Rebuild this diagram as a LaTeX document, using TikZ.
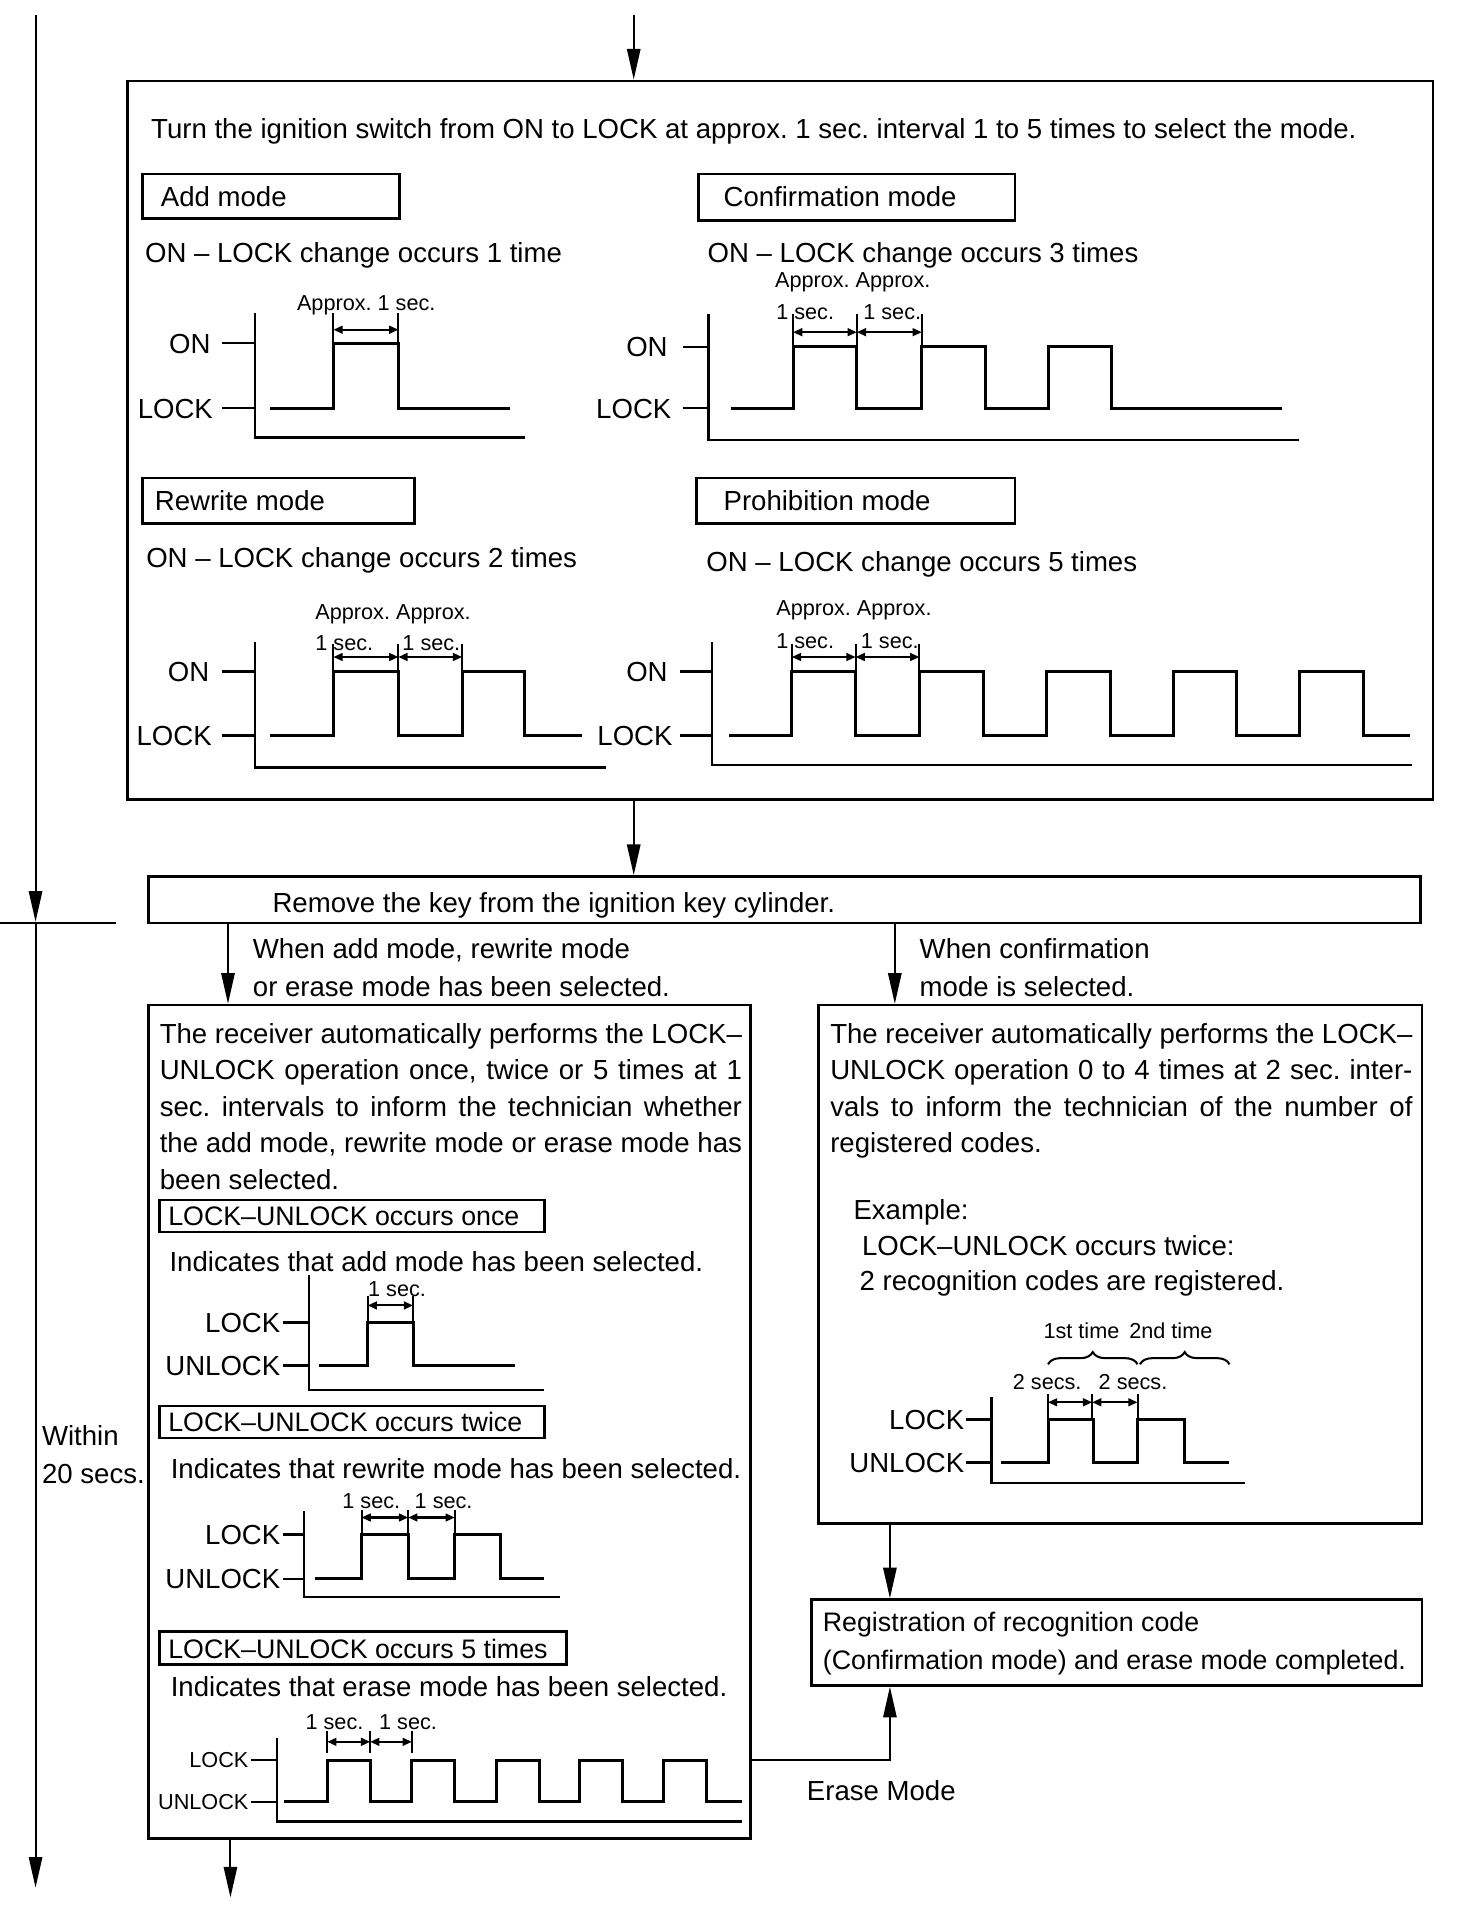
\documentclass[tikz,border=0pt]{standalone}
\usepackage{fontspec}
\setmainfont{Liberation Sans}
\usetikzlibrary{positioning,arrows.meta,fit,decorations.pathreplacing}
\newcommand{\mainfs}{\fontsize{13.5}{17.85}\selectfont}
\newcommand{\boxfs}{\fontsize{13.1}{16}\selectfont}
\newcommand{\smallfs}{\fontsize{10.6}{12}\selectfont}

\begin{document}
\frenchspacing
\begin{tikzpicture}[x=0.6pt,y=-0.6pt,
  box/.style={draw,line width=1.3pt,inner sep=0pt},
  txt/.style={font=\mainfs,inner sep=0pt,anchor=west,text height=9.7pt,text depth=0pt},
  btxt/.style={txt,font=\boxfs,text height=9.4pt},
  sm/.style={font=\smallfs,inner sep=0pt,anchor=west,text height=7.6pt,text depth=0pt},
  lbl/.style={txt,anchor=east},
  arr/.style={-{Triangle[length=15pt,width=6.5pt]},line width=1pt},
  dimarr/.style={<->,>={Triangle[length=4.5pt,width=3.8pt]},line width=1pt},
  sig/.style={line width=1.5pt},
  axisln/.style={line width=1.2pt},
  extln/.style={line width=1pt}
]
\useasboundingbox (0,0) rectangle (1201,1568);

% time line on the left
\coordinate (t0) at (29,12);
\coordinate (tm) at (29,752);
\coordinate (t1) at (29,1540);
\draw[arr] (t0) -- (tm);
\draw[arr] (tm) -- (t1);
\draw[line width=1pt] (0,753) -- (95,753);
\node[txt] (within) at (34,1171) {Within};
\node[txt] (secs) at (34,1202) {20 secs.};

% mode selection
\coordinate (in) at (517,12);
\node[box,fit={(104,66) (1169,652)}] (sel) {};
\draw[arr] (in) -- (in |- sel.north);
\node[txt] (turn) at (123,105) {Turn the ignition switch from ON to LOCK at approx. 1 sec. interval 1 to 5 times to select the mode.};

% add mode
\node[box,fit={(116,142) (326,178)}] (addbox) {};
\node[txt] (addlbl) at (131,160) {Add mode};
\node[txt] (addcnt) at (118,206) {ON – LOCK change occurs 1 time};
\node[sm] (addappr) at (242,247) {Approx. 1 sec.};
\draw[axisln] (208,255) |- (428,357);
\node[lbl] (addon) at (172,280) {ON};
\node[lbl] (addlk) at (174,333) {LOCK};
\draw[axisln] (181,280) -- (208,280) (181,333) -- (208,333);
\draw[sig] (220,333) -| (272,280) -| (325,333) -- (416,333);
\draw[extln] (272,280) -- (272,255) (325,280) -- (325,255);
\draw[dimarr] (272,269) -- (325,269);

% confirmation mode
\node[box,fit={(570,142) (828,180)}] (confbox) {};
\node[txt] (conflbl) at (590,160) {Confirmation mode};
\node[txt] (confcnt) at (577,206) {ON – LOCK change occurs 3 times};
\node[sm] (confappr) at (632,228) {Approx. Approx.};
\node[sm] (confs1) at (633,254) {1 sec.};
\node[sm] (confs2) at (704,254) {1 sec.};
\draw[axisln] (578,256) |- (1060,359);
\node[lbl] (confon) at (545,283) {ON};
\node[lbl] (conflk) at (548,333) {LOCK};
\draw[axisln] (557,283) -- (578,283) (557,333) -- (578,333);
\draw[sig] (596,333) \foreach \r in {647,752,855} {-| (\r,283) -| ({\r+52},333)} -- (1046,333);
\draw[extln] (647,283) -- (647,256) (699,283) -- (699,256) (752,283) -- (752,256);
\draw[dimarr] (647,271) -- (699,271);
\draw[dimarr] (699,271) -- (752,271);

% rewrite mode
\node[box,fit={(116,390) (338,427)}] (rwbox) {};
\node[txt] (rwlbl) at (126,408) {Rewrite mode};
\node[txt] (rwcnt) at (119,455) {ON – LOCK change occurs 2 times};
\node[sm] (rwappr) at (257,499) {Approx. Approx.};
\node[sm] (rws1) at (257,524) {1 sec.};
\node[sm] (rws2) at (328,524) {1 sec.};
\draw[axisln] (208,524) |- (494,626);
\node[lbl] (rwon) at (171,548) {ON};
\node[lbl] (rwlk) at (173,600) {LOCK};
\draw[axisln] (181,548) -- (208,548) (181,600) -- (208,600);
\draw[sig] (220,600) -| (272,548) -| (325,600) -| (377,548) -| (428,600) -- (475,600);
\draw[extln] (272,548) -- (272,525) (325,548) -- (325,525) (377,548) -- (377,525);
\draw[dimarr] (272,536) -- (325,536);
\draw[dimarr] (325,536) -- (377,536);

% prohibition mode
\node[box,fit={(568,390) (828,427)}] (prbox) {};
\node[txt] (prlbl) at (590,408) {Prohibition mode};
\node[txt] (prcnt) at (576,458) {ON – LOCK change occurs 5 times};
\node[sm] (prappr) at (633,496) {Approx. Approx.};
\node[sm] (prs1) at (633,523) {1 sec.};
\node[sm] (prs2) at (702,523) {1 sec.};
\draw[axisln] (581,524) |- (1152,624);
\node[lbl] (pron) at (545,548) {ON};
\node[lbl] (prlk) at (549,600) {LOCK};
\draw[axisln] (555,548) -- (581,548) (555,600) -- (581,600);
\draw[sig] (595,600) \foreach \r in {646,750,854,957,1060} {-| (\r,548) -| ({\r+52},600)} -- (1150,600);
\draw[extln] (646,548) -- (646,525) (698,548) -- (698,525) (750,548) -- (750,525);
\draw[dimarr] (646,536) -- (698,536);
\draw[dimarr] (698,536) -- (750,536);

% key removed
\node[box,fit={(121,715) (1159,753)}] (rm) {};
\node[txt] (rmlbl) at (222,736) {Remove the key from the ignition key cylinder.};
\draw[arr] (in |- sel.south) -- (in |- rm.north);

\coordinate (lx) at (186,0);
\coordinate (rx) at (730,0);
\node[box,fit={(121,820) (612,1500)}] (recv) {};
\node[box,fit={(668,820) (1160,1243)}] (conf) {};
\draw[arr] (lx |- rm.south) -- (lx |- recv.north);
\draw[arr] (rx |- rm.south) -- (rx |- conf.north);
\node[txt] (whenl1) at (206,774) {When add mode, rewrite mode};
\node[txt] (whenl2) at (206,805) {or erase mode has been selected.};
\node[txt] (whenr1) at (750,774) {When confirmation};
\node[txt] (whenr2) at (750,805) {mode is selected.};

% receiver answer, add / rewrite / erase
\foreach \t [count=\i from 0] in {{The receiver automatically performs the LOCK–},{UNLOCK operation once, twice or 5 times at 1},{sec. intervals to inform the technician whether},{the add mode, rewrite mode or erase mode has}}
  \node[txt] (lp\i) at (130,{843+29.8*\i}) {\makebox[285pt][s]{\t}};
\node[txt] (lp4) at (130,962) {been selected.};

\node[box,fit={(130,979) (444,1005)}] (oncebox) {};
\node[btxt] (oncelbl) at (137,992) {LOCK–UNLOCK occurs once};
\node[txt] (oncetxt) at (138,1029) {Indicates that add mode has been selected.};
\node[sm] (oncesec) at (300,1051) {1 sec.};
\draw[axisln] (252,1040) |- (444,1134);
\node[lbl] (oncelk) at (229,1079) {LOCK};
\node[lbl] (onceun) at (229,1114) {UNLOCK};
\draw[axisln] (231,1079) -- (252,1079) (231,1114) -- (252,1114);
\draw[sig] (260,1114) -| (300,1079) -| (337,1114) -- (420,1114);
\draw[extln] (300,1079) -- (300,1057) (337,1079) -- (337,1057);
\draw[dimarr] (300,1065) -- (337,1065);

\node[box,fit={(130,1147) (444,1173)}] (twicebox) {};
\node[btxt] (twicelbl) at (137,1160) {LOCK–UNLOCK occurs twice};
\node[txt] (twicetxt) at (139,1198) {Indicates that rewrite mode has been selected.};
\node[sm] (tws1) at (279,1224) {1 sec.};
\node[sm] (tws2) at (338,1224) {1 sec.};
\draw[axisln] (248,1233) |- (457,1303);
\node[lbl] (twlk) at (229,1252) {LOCK};
\node[lbl] (twun) at (229,1288) {UNLOCK};
\draw[axisln] (231,1252) -- (248,1252) (231,1288) -- (248,1288);
\draw[sig] (257,1288) -| (295,1252) -| (333,1288) -| (371,1252) -| (408,1288) -- (444,1288);
\draw[extln] (295,1252) -- (295,1232) (333,1252) -- (333,1232) (371,1252) -- (371,1232);
\draw[dimarr] (295,1238) -- (333,1238);
\draw[dimarr] (333,1238) -- (371,1238);

\node[box,fit={(130,1331) (462,1358)}] (fivebox) {};
\node[btxt] (fivelbl) at (137,1345) {LOCK–UNLOCK occurs 5 times};
\node[txt] (fivetxt) at (139,1376) {Indicates that erase mode has been selected.};
\node[sm] (fvs1) at (249,1405) {1 sec.};
\node[sm] (fvs2) at (309,1405) {1 sec.};
\draw[axisln] (226,1418) |- (605,1486);
\node[sm,anchor=east] (fvlk) at (203,1436) {LOCK};
\node[sm,anchor=east] (fvun) at (203,1470) {UNLOCK};
\draw[axisln] (205,1436) -- (226,1436) (205,1470) -- (226,1470);
\draw[sig] (232,1470) \foreach \r in {267,336,405,473,541} {-| (\r,1436) -| ({\r+35},1470)} -- (605,1470);
\draw[extln] (267,1412) -- (267,1430) (302,1412) -- (302,1430) (336,1412) -- (336,1430);
\draw[dimarr] (267,1421) -- (302,1421);
\draw[dimarr] (302,1421) -- (336,1421);

% receiver answer, confirmation
\foreach \t [count=\i from 0] in {{The receiver automatically performs the LOCK–},{UNLOCK operation 0 to 4 times at 2 sec. inter-},{vals to inform the technician of the number of}}
  \node[txt] (rp\i) at (677,{843+29.8*\i}) {\makebox[285pt][s]{\t}};
\node[txt] (rp3) at (677,932) {registered codes.};
\node[txt] (expl) at (696,987) {Example:};
\node[txt] (expl1) at (703,1016) {LOCK–UNLOCK occurs twice:};
\node[txt] (expl2) at (701,1045) {2 recognition codes are registered.};

\node[sm] (first) at (851,1086) {1st time};
\node[sm] (second) at (921,1086) {2nd time};
\draw[extln,decorate,decoration={brace,amplitude=6pt}] (855,1113) -- (928,1113);
\draw[extln,decorate,decoration={brace,amplitude=6pt}] (930,1113) -- (1003,1113);
\node[sm] (twos1) at (826,1127) {2 secs.};
\node[sm] (twos2) at (896,1127) {2 secs.};
\draw[axisln] (809,1140) |- (1016,1210);
\node[lbl] (cklk) at (787,1158) {LOCK};
\node[lbl] (ckun) at (787,1193) {UNLOCK};
\draw[axisln] (788,1158) -- (809,1158) (788,1193) -- (809,1193);
\draw[sig] (817,1193) -| (855,1158) -| (892,1193) -| (928,1158) -| (966,1193) -- (1003,1193);
\draw[extln] (855,1158) -- (855,1137) (891,1158) -- (891,1137) (928,1158) -- (928,1137);
\draw[dimarr] (855,1144) -- (891,1144);
\draw[dimarr] (891,1144) -- (928,1144);

% registration
\node[box,fit={(662,1305) (1160,1375)}] (reg) {};
\node[btxt] (reg1) at (671,1323) {Registration of recognition code};
\node[btxt] (reg2) at (671,1354) {(Confirmation mode) and erase mode completed.};

\coordinate (ex) at (726,0);
\coordinate (ey) at (0,1436);
\draw[arr] (ex |- conf.south) -- (ex |- reg.north);
\draw[arr] (recv.east |- ey) -| (ex |- reg.south);
\node[txt] (erase) at (658,1461) {Erase Mode};
\coordinate (out) at (188,1548);
\draw[arr] (out |- recv.south) -- (out);
\end{tikzpicture}
\end{document}
